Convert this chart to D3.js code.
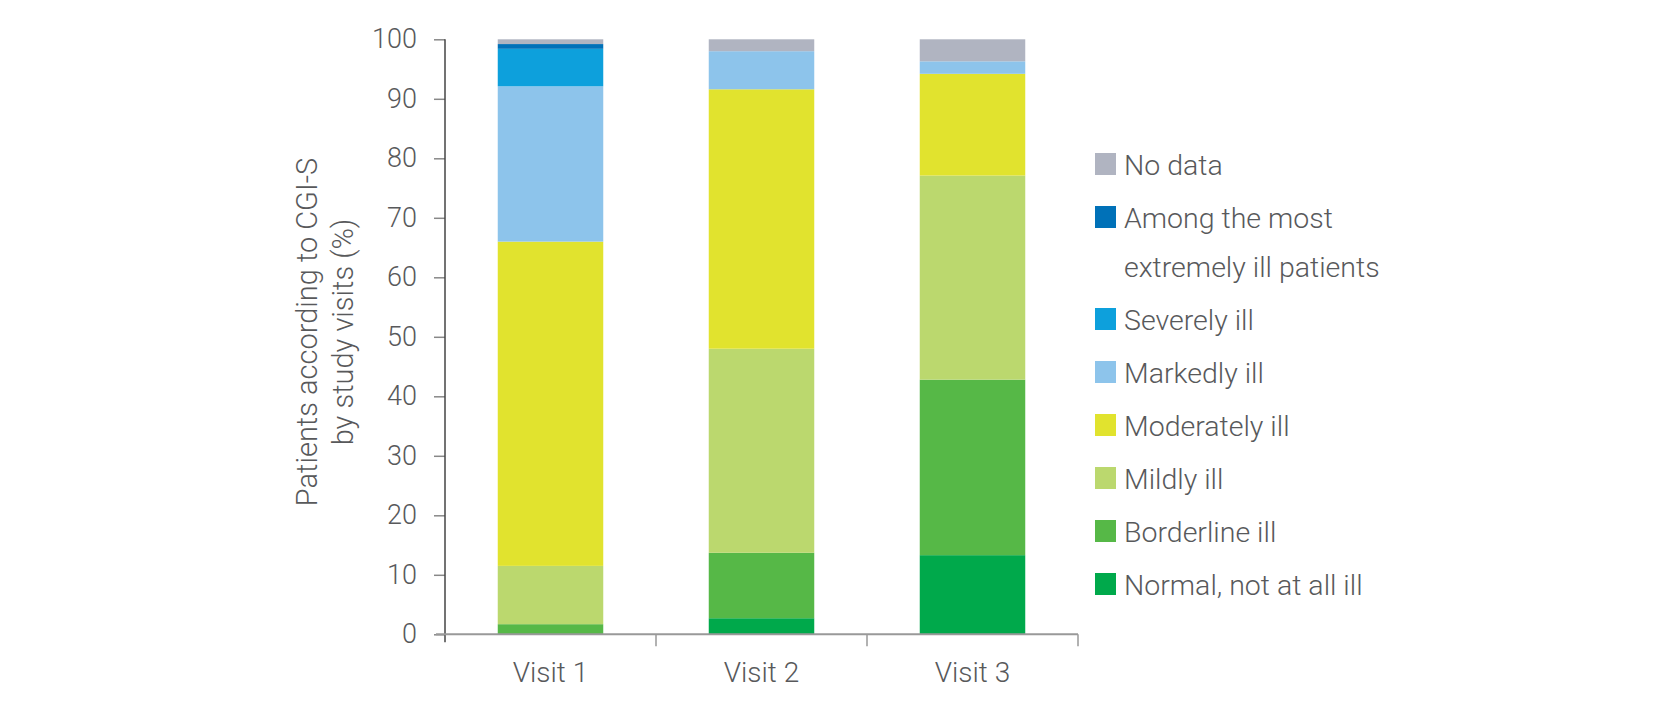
<!DOCTYPE html>
<html>
<head>
<meta charset="utf-8">
<script src="https://cdn.jsdelivr.net/npm/d3@7"></script>
<style>
  body { margin: 0; background: #fff; }
  text { font-family: Roboto, "Liberation Sans", sans-serif; font-weight: 300; fill: #58595b; }
</style>
</head>
<body>
<div id="chart"></div>
<script>
// data
const visits = ['Visit 1', 'Visit 2', 'Visit 3'];
const severity = ['normal', 'borderline', 'mild', 'moderate', 'markedly', 'severe', 'extreme', 'noData'];
const normal = [0, 2.7, 13.3];
const borderline = [1.7, 11.0, 29.5];
const mild = [9.8, 34.3, 34.3];
const moderate = [54.5, 43.6, 17.1];
const markedly = [26.1, 6.4, 2.1];
const severe = [6.3, 0, 0];
const extreme = [0.8, 0, 0];
const noData = [0.8, 2.0, 3.7];
const yTicks = [0, 10, 20, 30, 40, 50, 60, 70, 80, 90, 100];

const colors = {
  normal: '#00a94b',
  borderline: '#56b847',
  mild: '#bbd86e',
  moderate: '#e1e32e',
  markedly: '#8dc4eb',
  severe: '#0da0dc',
  extreme: '#0071b8',
  noData: '#b0b4c1',
};

// legend, top to bottom
const legendItems = [
  { key: 'noData', lines: ['No data'] },
  { key: 'extreme', lines: ['Among the most', 'extremely ill patients'] },
  { key: 'severe', lines: ['Severely ill'] },
  { key: 'markedly', lines: ['Markedly ill'] },
  { key: 'moderate', lines: ['Moderately ill'] },
  { key: 'mild', lines: ['Mildly ill'] },
  { key: 'borderline', lines: ['Borderline ill'] },
  { key: 'normal', lines: ['Normal, not at all ill'] },
];

const series = { normal, borderline, mild, moderate, markedly, severe, extreme, noData };
const rows = visits.map((v, i) => {
  const row = { visit: v };
  severity.forEach(k => { row[k] = series[k][i]; });
  return row;
});

// dimensions
const width = 1678;
const height = 714;
const plot = { left: 445, right: 1078, top: 39.3, bottom: 634.3 };

const svg = d3.select('#chart')
  .append('svg')
  .attr('width', width)
  .attr('height', height);

// scales
const x = d3.scaleBand()
  .domain(visits)
  .range([plot.left, plot.right])
  .paddingInner(0.5)
  .paddingOuter(0.25);

const y = d3.scaleLinear()
  .domain([0, 100])
  .range([plot.bottom, plot.top]);

// stacked bars
const stacked = d3.stack().keys(severity)(rows);

svg.append('g')
  .selectAll('g')
  .data(stacked)
  .enter().append('g')
  .attr('fill', d => colors[d.key])
  .selectAll('rect')
  .data(d => d)
  .enter().append('rect')
  .attr('x', d => x(d.data.visit))
  .attr('width', x.bandwidth())
  .attr('y', d => y(d[1]))
  .attr('height', d => y(d[0]) - y(d[1]));

// y axis
const yAxis = svg.append('g')
  .attr('transform', `translate(${plot.left},0)`)
  .call(d3.axisLeft(y).tickValues(yTicks).tickSize(11).tickPadding(17));

yAxis.select('.domain').remove();
yAxis.selectAll('.tick line').attr('stroke', '#888').attr('stroke-width', 1.5);
yAxis.selectAll('.tick text')
  .style('font-size', '27px')
  .style('font-family', 'Roboto, sans-serif')
  .style('font-weight', 300)
  .attr('fill', '#58595b');

svg.append('line')
  .attr('x1', plot.left).attr('x2', plot.left)
  .attr('y1', plot.top).attr('y2', plot.bottom + 8)
  .attr('stroke', '#444')
  .attr('stroke-width', 1.5);

// x axis
svg.append('line')
  .attr('x1', plot.left - 9).attr('x2', plot.right)
  .attr('y1', plot.bottom).attr('y2', plot.bottom)
  .attr('stroke', '#999')
  .attr('stroke-width', 2);

const gap = x.step() * x.paddingInner() / 2;
svg.append('g')
  .selectAll('line')
  .data(visits)
  .enter().append('line')
  .attr('x1', (d, i) => i === visits.length - 1 ? plot.right : x(d) + x.bandwidth() + gap)
  .attr('x2', (d, i) => i === visits.length - 1 ? plot.right : x(d) + x.bandwidth() + gap)
  .attr('y1', plot.bottom)
  .attr('y2', plot.bottom + 12)
  .attr('stroke', '#999')
  .attr('stroke-width', 1.5);

svg.append('g')
  .selectAll('text')
  .data(visits)
  .enter().append('text')
  .attr('x', d => x(d) + x.bandwidth() / 2)
  .attr('y', 682)
  .attr('text-anchor', 'middle')
  .style('font-size', '28px')
  .text(d => d);

// y axis title
svg.append('text')
  .attr('transform', 'translate(317,332) rotate(-90)')
  .attr('text-anchor', 'middle')
  .style('font-size', '29px')
  .selectAll('tspan')
  .data(['Patients according to CGI-S', 'by study visits (%)'])
  .enter().append('tspan')
  .attr('x', 0)
  .attr('y', (d, i) => i * 36)
  .text(d => d);

// legend
let baseline = 175;
legendItems.forEach((item, i) => {
  if (i > 0) baseline += 53;
  svg.append('rect')
    .attr('x', 1095)
    .attr('y', baseline - 22)
    .attr('width', 21)
    .attr('height', 22)
    .attr('fill', colors[item.key]);
  item.lines.forEach((line, j) => {
    if (j > 0) baseline += 49;
    svg.append('text')
      .attr('x', 1124)
      .attr('y', baseline)
      .style('font-size', '28.5px')
      .text(line);
  });
});
</script>
</body>
</html>
